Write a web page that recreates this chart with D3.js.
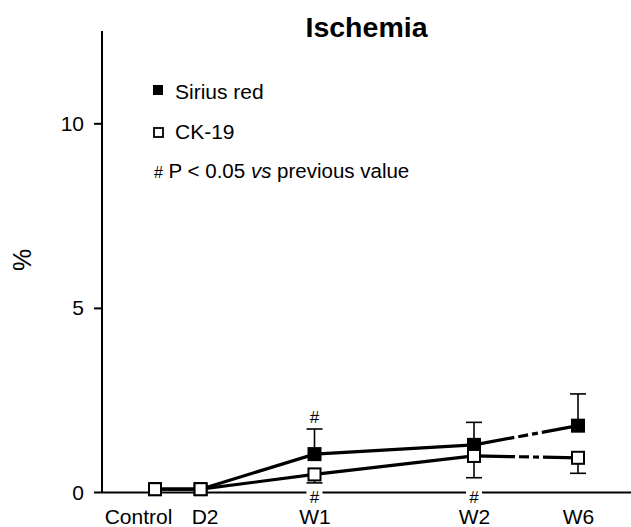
<!DOCTYPE html>
<html>
<head>
<meta charset="utf-8">
<script src="https://cdn.jsdelivr.net/npm/d3@7"></script>
<style>
  html, body { margin: 0; padding: 0; background: #fff; }
  svg { display: block; font-family: "Liberation Sans", Arial, sans-serif; }
</style>
</head>
<body>
<svg id="chart" width="631" height="527"></svg>
<script>
// ---- Data ----
const categories = ["Control", "D2", "W1", "W2", "W6"];
const days = [0, 2, 7, 14, 42];
const siriusRed = [0.09, 0.09, 1.04, 1.29, 1.81];
const siriusRedErr = [0, 0, 0.68, 0.61, 0.86];
const ck19 = [0.09, 0.09, 0.49, 0.99, 0.94];
const ck19Err = [0, 0, 0.23, 0.59, 0.42];
const yTicks = [0, 5, 10];
const sigAbove = ["W1"];         // '#' above Sirius red
const sigBelow = ["W1", "W2"];   // '#' below CK-19 (on axis)
const title = "Ischemia";
const yLabel = "%";

// ---- Layout ----
const svg = d3.select("#chart");
const x = d3.scaleLinear().domain([0, 14, 42]).range([155, 474, 578]);
const y = d3.scaleLinear().domain([0, 12.5]).range([492.5, 31]);
const x0 = 102, axisLeftEnd = 94, axisRightEnd = 631;

// Title
svg.append("text").attr("x", 366.5).attr("y", 37)
  .attr("text-anchor", "middle").attr("font-weight", "bold")
  .attr("font-size", 28.5).text(title);

// Y axis
const yAxis = d3.axisLeft(y).tickValues(yTicks.filter(v => v > 0))
  .tickSize(8).tickSizeOuter(0).tickPadding(10);
const gy = svg.append("g").attr("transform", `translate(${x0},0)`).call(yAxis);
gy.select(".domain").remove();
gy.selectAll(".tick line").attr("stroke", "#000").attr("stroke-width", 2);
gy.selectAll(".tick text").attr("font-size", 21).attr("fill", "#000")
  .attr("font-family", "Liberation Sans, Arial, sans-serif");
// zero tick label
svg.append("text").attr("x", x0 - 18).attr("y", y(0)).attr("dy", "0.35em")
  .attr("text-anchor", "end").attr("font-size", 21).text(yTicks[0]);

svg.append("line").attr("x1", x0).attr("x2", x0).attr("y1", y(12.5)).attr("y2", y(0))
  .attr("stroke", "#000").attr("stroke-width", 2);

// X axis
svg.append("line").attr("x1", axisLeftEnd).attr("x2", axisRightEnd)
  .attr("y1", y(0)).attr("y2", y(0)).attr("stroke", "#000").attr("stroke-width", 2);
const xAxis = d3.axisBottom(x).tickValues(days)
  .tickFormat((d, i) => categories[i]).tickSize(0).tickPadding(17);
const gx = svg.append("g").attr("transform", `translate(0,${y(0)})`).call(xAxis);
gx.select(".domain").remove();
gx.selectAll(".tick text").attr("font-size", 21).attr("fill", "#000")
  .attr("font-family", "Liberation Sans, Arial, sans-serif")
  .attr("dx", (d, i) => i === 0 ? -17 : (i === 1 ? 4 : 0));

// Y label
svg.append("text").attr("transform", "translate(31,260) rotate(-90)")
  .attr("text-anchor", "middle").attr("font-size", 25).text(yLabel);

// Lines (solid up to W2, broken to W6)
const series = [
  { vals: siriusRed, err: siriusRedErr, fill: "#000", dir: 1 },
  { vals: ck19, err: ck19Err, fill: "#fff", dir: -1 }
];
const lineGen = d3.line().x(d => x(d[0])).y(d => y(d[1]));
series.forEach(s => {
  const pts = days.map((d, i) => [d, s.vals[i]]);
  svg.append("path").attr("d", lineGen(pts.slice(0, 4)))
    .attr("fill", "none").attr("stroke", "#000").attr("stroke-width", 3.2);
  svg.append("path").attr("d", lineGen(pts.slice(3, 5)))
    .attr("fill", "none").attr("stroke", "#000").attr("stroke-width", 3.2)
    .attr("stroke-dasharray", "41 4 10 4 6 4 400");
});

// Error bars
series.forEach(s => {
  days.forEach((d, i) => {
    if (!s.err[i]) return;
    const yEnd = y(s.vals[i] + s.dir * s.err[i]);
    svg.append("line").attr("x1", x(d)).attr("x2", x(d))
      .attr("y1", y(s.vals[i])).attr("y2", yEnd)
      .attr("stroke", "#000").attr("stroke-width", 1.6);
    svg.append("line").attr("x1", x(d) - 8).attr("x2", x(d) + 8)
      .attr("y1", yEnd).attr("y2", yEnd)
      .attr("stroke", "#000").attr("stroke-width", 1.6);
  });
});

// Markers
const ms = 12;
series.forEach(s => {
  svg.append("g").selectAll("rect").data(days).join("rect")
    .attr("x", d => x(d) - ms / 2)
    .attr("y", (d, i) => y(s.vals[i]) - ms / 2)
    .attr("width", ms).attr("height", ms)
    .attr("fill", s.fill).attr("stroke", "#000").attr("stroke-width", 2);
});

// Significance marks
sigAbove.forEach(c => {
  const i = categories.indexOf(c);
  svg.append("text").attr("x", x(days[i])).attr("y", y(siriusRed[i] + siriusRedErr[i]) - 6)
    .attr("text-anchor", "middle").attr("font-size", 17).text("#");
});
sigBelow.forEach(c => {
  const i = categories.indexOf(c);
  svg.append("rect").attr("x", x(days[i]) - 8).attr("y", y(0) - 3)
    .attr("width", 16).attr("height", 6).attr("fill", "#fff");
  svg.append("text").attr("x", x(days[i])).attr("y", y(0) + 10)
    .attr("text-anchor", "middle").attr("font-size", 17).text("#");
});

// Legend
const lg = svg.append("g");
lg.append("rect").attr("x", 153).attr("y", 85).attr("width", 10).attr("height", 10)
  .attr("fill", "#000");
lg.append("text").attr("x", 175).attr("y", 99).attr("font-size", 21).text("Sirius red");
lg.append("rect").attr("x", 154).attr("y", 128).attr("width", 9).attr("height", 9)
  .attr("fill", "#fff").attr("stroke", "#000").attr("stroke-width", 1.8);
lg.append("text").attr("x", 175).attr("y", 139).attr("font-size", 21).text("CK-19");
const note = lg.append("text").attr("x", 154).attr("y", 178).attr("font-size", 20.5);
note.append("tspan").attr("font-size", 16).text("#");
note.append("tspan").text(" P < 0.05 ");
note.append("tspan").attr("font-style", "italic").text("vs");
note.append("tspan").text(" previous value");
</script>
</body>
</html>
